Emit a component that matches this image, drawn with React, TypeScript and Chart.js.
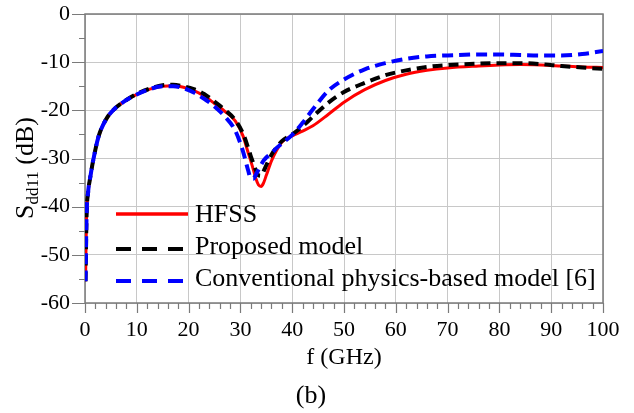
import React, { useEffect, useRef } from "react";
import { Chart, registerables } from "chart.js";

Chart.register(...registerables);

const freq = [0.1, 0.3, 0.6, 1, 1.6, 2.6, 4, 5.5, 7.5, 10, 12.5, 15, 17, 19, 21, 23, 25, 27, 29, 30.5, 31.5, 32, 32.5, 33, 33.5, 34, 34.5, 35, 36, 37, 38, 40, 42, 44, 47, 50, 54, 58, 62, 66, 70, 76, 80, 84, 88, 92, 96, 100];

const hfss = [-55.5, -42, -37, -34, -30.3, -25.5, -22, -19.9, -18.2, -16.7, -15.6, -15.0, -14.9, -15.2, -15.9, -17.0, -18.6, -20.2, -22.2, -25.3, -28.8, -30.5, -32.3, -34.2, -35.5, -35.8, -35.0, -33.5, -30.5, -28.3, -26.6, -25.3, -24.3, -23.2, -20.8, -18.3, -15.7, -13.8, -12.5, -11.7, -11.2, -10.8, -10.6, -10.5, -10.6, -10.8, -11.0, -11.1];

const proposed = [-55.5, -42, -37, -34, -30.3, -25.5, -22, -19.9, -18.2, -16.6, -15.5, -14.8, -14.7, -15.0, -15.6, -16.6, -18.2, -19.9, -22.0, -24.8, -27.8, -29.5, -31.0, -32.5, -33.5, -33.6, -32.6, -31.4, -29.2, -27.7, -26.4, -25.0, -23.3, -21.3, -18.4, -16.2, -14.3, -12.7, -11.7, -11.0, -10.6, -10.3, -10.2, -10.2, -10.4, -10.8, -11.1, -11.4];

const conventional = [-55.5, -42, -37, -34, -30.3, -25.5, -22, -19.9, -18.2, -16.7, -15.6, -15.0, -15.0, -15.4, -16.3, -17.6, -19.2, -21.3, -24.2, -28.5, -32.5, -34.1, -34.2, -33.3, -32.3, -31.3, -30.4, -29.8, -28.9, -27.8, -26.9, -25.1, -22.6, -19.8, -15.9, -13.6, -11.5, -10.2, -9.3, -8.8, -8.6, -8.4, -8.4, -8.5, -8.6, -8.6, -8.3, -7.7];

const xTicks = [0, 10, 20, 30, 40, 50, 60, 70, 80, 90, 100];
const yTicks = [0, -10, -20, -30, -40, -50, -60];
const seriesLabels = ["HFSS", "Proposed model", "Conventional physics-based model [6]"];
const seriesColors = ["#ff0000", "#000000", "#0000ff"];

const SERIF = "'Liberation Serif', 'Times New Roman', serif";

const decorPlugin = {
  id: "decor",
  beforeDatasetsDraw(chart: any) {
    const { ctx, chartArea: a, scales } = chart;
    const x = scales.x;
    const y = scales.y;
    ctx.save();
    ctx.strokeStyle = "#7a7a7a";
    ctx.lineWidth = 1.5;
    ctx.strokeRect(a.left, a.top, a.right - a.left, a.bottom - a.top);
    ctx.lineWidth = 1.2;
    ctx.beginPath();
    for (let v = xTicks[0]; v <= xTicks[xTicks.length - 1]; v += 2) {
      const px = Math.round(x.getPixelForValue(v)) + 0.5;
      const len = v % 10 === 0 ? 10 : 6;
      ctx.moveTo(px, a.bottom);
      ctx.lineTo(px, a.bottom + len);
    }
    for (let v = yTicks[yTicks.length - 1]; v <= yTicks[0]; v += 5) {
      const py = Math.round(y.getPixelForValue(v)) + 0.5;
      const len = v % 10 === 0 ? 13 : 6;
      ctx.moveTo(a.left - len, py);
      ctx.lineTo(a.left, py);
    }
    ctx.stroke();
    ctx.restore();
  },
  afterDraw(chart: any) {
    const { ctx, chartArea: a } = chart;
    ctx.save();
    ctx.fillStyle = "#000";
    // x title
    ctx.font = `24px ${SERIF}`;
    ctx.textAlign = "center";
    ctx.textBaseline = "alphabetic";
    ctx.fillText("f (GHz)", (a.left + a.right) / 2, 364);
    // caption
    ctx.font = `26px ${SERIF}`;
    ctx.fillText("(b)", 311, 403);
    // y title with subscript
    ctx.save();
    ctx.translate(33, 168);
    ctx.rotate(-Math.PI / 2);
    ctx.textAlign = "left";
    const mainFont = `26px ${SERIF}`;
    const subFont = `17px ${SERIF}`;
    ctx.font = mainFont;
    const wS = ctx.measureText("S").width;
    const wRest = ctx.measureText(" (dB)").width;
    ctx.font = subFont;
    const wSub = ctx.measureText("dd11").width;
    let cx = -(wS + wSub + wRest) / 2;
    ctx.font = mainFont;
    ctx.fillText("S", cx, 0);
    cx += wS;
    ctx.font = subFont;
    ctx.fillText("dd11", cx, 5);
    cx += wSub;
    ctx.font = mainFont;
    ctx.fillText(" (dB)", cx, 0);
    ctx.restore();
    // legend
    const lineY = [214, 249, 281];
    const textY = [222, 254, 286];
    const dashes = [[], [15, 11], [15, 11]];
    const widths = [3.5, 4, 4];
    for (let i = 0; i < seriesLabels.length; i++) {
      ctx.strokeStyle = seriesColors[i];
      ctx.lineWidth = widths[i];
      ctx.setLineDash(dashes[i]);
      ctx.beginPath();
      ctx.moveTo(116, lineY[i]);
      ctx.lineTo(188, lineY[i]);
      ctx.stroke();
      ctx.setLineDash([]);
      ctx.font = `26px ${SERIF}`;
      ctx.textAlign = "left";
      ctx.fillStyle = "#000";
      ctx.fillText(seriesLabels[i], 195, textY[i]);
    }
    ctx.restore();
  },
};

export default function App() {
  const ref = useRef<HTMLCanvasElement | null>(null);
  useEffect(() => {
    if (!ref.current) return;
    const mk = (vals: number[]) => freq.map((f, i) => ({ x: f, y: vals[i] }));
    const chart = new Chart(ref.current, {
      type: "line",
      data: {
        datasets: [
          {
            label: seriesLabels[0],
            data: mk(hfss),
            borderColor: seriesColors[0],
            borderWidth: 3,
            pointRadius: 0,
            cubicInterpolationMode: "monotone",
            order: 3,
          },
          {
            label: seriesLabels[1],
            data: mk(proposed),
            borderColor: seriesColors[1],
            borderWidth: 4,
            borderDash: [10, 6],
            pointRadius: 0,
            cubicInterpolationMode: "monotone",
            order: 2,
          },
          {
            label: seriesLabels[2],
            data: mk(conventional),
            borderColor: seriesColors[2],
            borderWidth: 4,
            borderDash: [11, 6],
            pointRadius: 0,
            cubicInterpolationMode: "monotone",
            order: 1,
          },
        ],
      },
      options: {
        animation: false,
        responsive: false,
        maintainAspectRatio: false,
        layout: { padding: { left: 0, top: 14, right: 31, bottom: 0 } },
        plugins: { legend: { display: false }, tooltip: { enabled: false } },
        scales: {
          x: {
            type: "linear",
            min: 0,
            max: 100,
            afterFit: (s: any) => {
              s.height = 110;
              s.paddingLeft = 0;
              s.paddingRight = 0;
              s.paddingTop = 0;
              s.paddingBottom = 0;
            },
            afterBuildTicks: (s: any) => {
              s.ticks = xTicks.map((v) => ({ value: v }));
            },
            ticks: {
              color: "#000",
              font: { family: SERIF, size: 22 },
              padding: 14,
              maxRotation: 0,
              callback: (v: any) => String(v),
            },
            grid: { color: "#c8c8c8", lineWidth: 1, drawTicks: false },
            border: { display: false },
          },
          y: {
            type: "linear",
            min: -60,
            max: 0,
            afterFit: (s: any) => {
              s.width = 85;
              s.paddingLeft = 0;
              s.paddingRight = 0;
              s.paddingTop = 0;
              s.paddingBottom = 0;
            },
            afterBuildTicks: (s: any) => {
              s.ticks = yTicks.slice().reverse().map((v) => ({ value: v }));
            },
            ticks: {
              color: "#000",
              font: { family: SERIF, size: 22 },
              padding: 15,
              callback: (v: any) => String(v),
            },
            grid: { color: "#c8c8c8", lineWidth: 1, drawTicks: false },
            border: { display: false },
          },
        },
      },
      plugins: [decorPlugin],
    });
    return () => chart.destroy();
  }, []);
  return (
    <div style={{ position: "absolute", left: 0, top: 0, width: 634, height: 413, background: "#fff" }}>
      <canvas ref={ref} width={634} height={413} style={{ width: 634, height: 413 }} />
    </div>
  );
}
